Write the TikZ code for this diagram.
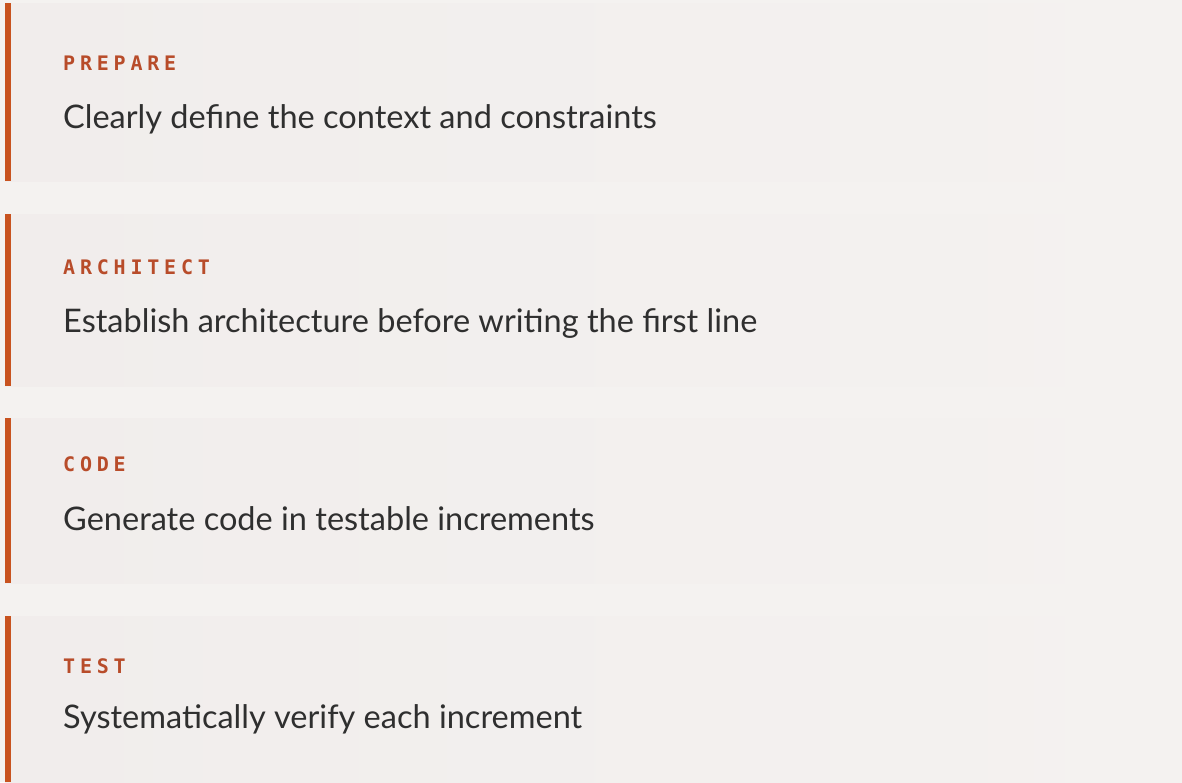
\documentclass[tikz,border=0pt]{standalone}
\usepackage{fontspec}
\setmainfont{Lato}
\newfontfamily\labelfont[LetterSpace=24]{DejaVu Sans Mono}
\definecolor{pagebg}{HTML}{F4F2F0}
\definecolor{boxbg}{HTML}{F1EDEC}
\definecolor{barc}{HTML}{C8531F}
\definecolor{labelc}{HTML}{B84C2A}
\definecolor{textc}{HTML}{2F2F2F}
\tikzset{
  stagelabel/.style={anchor=base west, inner sep=0pt, text=labelc, font=\labelfont\bfseries\fontsize{20}{24}\selectfont},
  stagetext/.style={anchor=base west, inner sep=0pt, text=textc, font=\fontsize{32.5}{38}\selectfont},
  stagebar/.style={fill=barc, draw=none},
}
\begin{document}
\begin{tikzpicture}[x=1pt,y=-1pt]
\fill[pagebg] (0,0) rectangle (1182,782);
\useasboundingbox (0,0) rectangle (1182,782);
% boxes
\foreach \t/\b in {3/181, 214/386, 418/583, 616/782}{
  \shade[left color=boxbg, right color=pagebg] (5,\t) rectangle (1182,\b);
  \fill[stagebar] (5,\t) rectangle (11,\b);
}
\node[stagelabel] (l1) at (63,70) {PREPARE};
\node[stagetext] (t1) at (63,128) {Clearly define the context and constraints};
\node[stagelabel] (l2) at (63,274) {ARCHITECT};
\node[stagetext] (t2) at (63,332) {Establish architecture before writing the first line};
\node[stagelabel] (l3) at (63,471) {CODE};
\node[stagetext] (t3) at (63,530) {Generate code in testable increments};
\node[stagelabel] (l4) at (63,673) {TEST};
\node[stagetext] (t4) at (63,728) {Systematically verify each increment};
\end{tikzpicture}
\end{document}
